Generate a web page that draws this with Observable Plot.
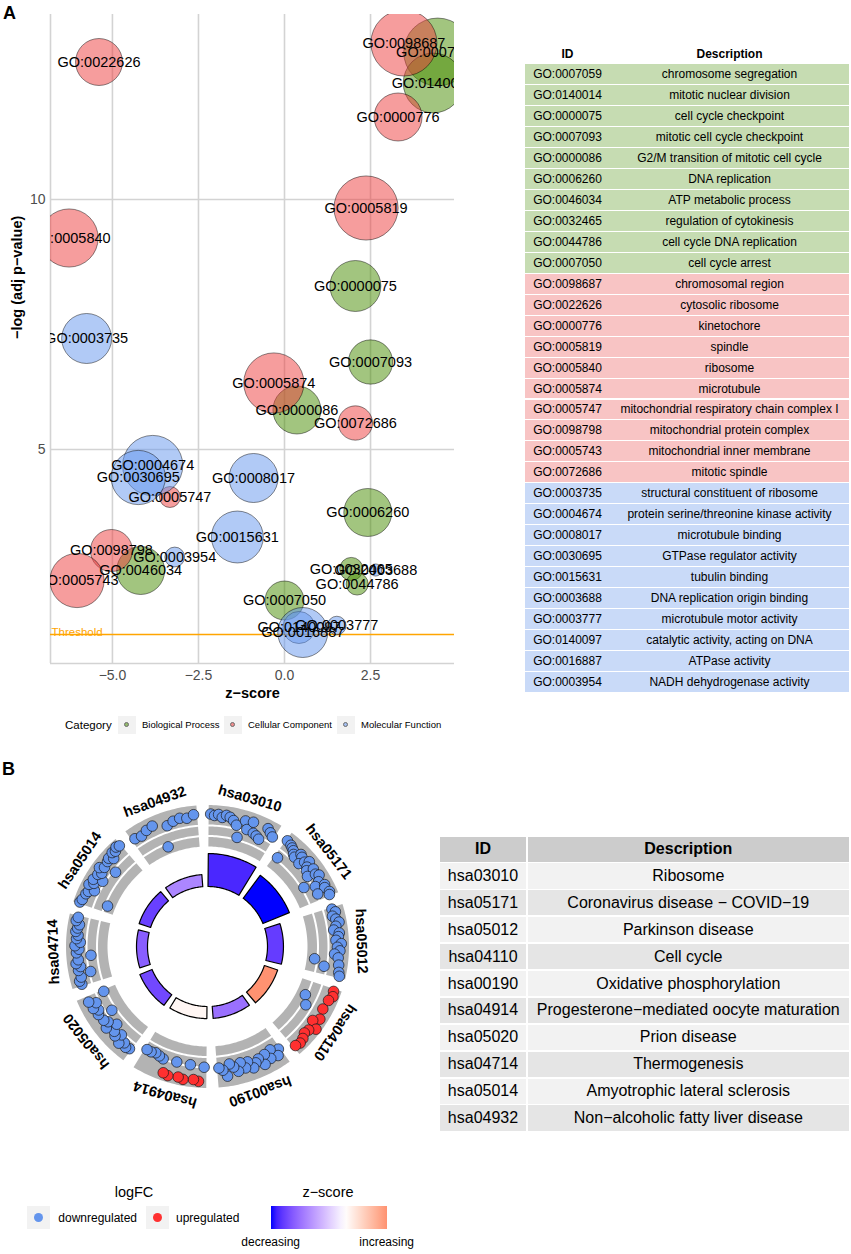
<!DOCTYPE html>
<html><head><meta charset="utf-8">
<script src="https://cdn.jsdelivr.net/npm/d3@7"></script>
<script src="https://cdn.jsdelivr.net/npm/@observablehq/plot@0.6"></script>
<style>
html,body{margin:0;padding:0;background:#fff}
body{width:851px;height:1254px;position:relative;overflow:hidden;font-family:"Liberation Sans",Arial,sans-serif;color:#000}
</style></head><body>
<script>
// ---------------- Panel A data ----------------
const goIds = ["GO:0007059","GO:0140014","GO:0000075","GO:0007093","GO:0000086","GO:0006260","GO:0046034","GO:0032465","GO:0044786","GO:0007050",
  "GO:0098687","GO:0022626","GO:0000776","GO:0005819","GO:0005840","GO:0005874","GO:0005747","GO:0098798","GO:0005743","GO:0072686",
  "GO:0003735","GO:0004674","GO:0008017","GO:0030695","GO:0015631","GO:0003688","GO:0003777","GO:0140097","GO:0016887","GO:0003954"];
const goDescs = ["chromosome segregation","mitotic nuclear division","cell cycle checkpoint","mitotic cell cycle checkpoint","G2/M transition of mitotic cell cycle","DNA replication","ATP metabolic process","regulation of cytokinesis","cell cycle DNA replication","cell cycle arrest",
  "chromosomal region","cytosolic ribosome","kinetochore","spindle","ribosome","microtubule","mitochondrial respiratory chain complex I","mitochondrial protein complex","mitochondrial inner membrane","mitotic spindle",
  "structural constituent of ribosome","protein serine/threonine kinase activity","microtubule binding","GTPase regulator activity","tubulin binding","DNA replication origin binding","microtubule motor activity","catalytic activity, acting on DNA","ATPase activity","NADH dehydrogenase activity"];
const goCats = ["Biological Process","Biological Process","Biological Process","Biological Process","Biological Process","Biological Process","Biological Process","Biological Process","Biological Process","Biological Process",
  "Cellular Component","Cellular Component","Cellular Component","Cellular Component","Cellular Component","Cellular Component","Cellular Component","Cellular Component","Cellular Component","Cellular Component",
  "Molecular Function","Molecular Function","Molecular Function","Molecular Function","Molecular Function","Molecular Function","Molecular Function","Molecular Function","Molecular Function","Molecular Function"];
const goZscores = [4.45,4.32,2.06,2.50,0.36,2.42,-4.18,1.94,2.11,0.00,
  3.47,-5.39,3.30,2.37,-6.26,-0.31,-3.33,-5.03,-6.03,2.06,
  -5.75,-3.83,-0.90,-4.25,-1.37,2.65,1.52,0.42,0.53,-3.19];
const goLogP = [12.95,12.33,8.27,6.75,5.79,3.74,2.58,2.61,2.31,1.98,
  13.13,12.75,11.65,9.83,9.23,6.33,4.05,2.98,2.38,5.53,
  7.22,4.68,4.43,4.44,3.25,2.59,1.48,1.44,1.34,2.85];
const goCounts = [94,73,53,40,47,47,47,11,10,31,
  89,45,47,84,69,74,9,36,60,24,
  51,74,49,60,55,3,7,21,51,8];
const catNames = ["Biological Process","Cellular Component","Molecular Function"];
const catColors = ["#458B00","#EE3B3B","#6495ED"];
const catRowFills = ["#c6dcb2","#f8c4c4","#c9daf8"];
const xTicks = [-5, -2.5, 0, 2.5];
const yTicks = [5, 10];
const threshold = 1.3;
const xDomain = [-6.8, 4.94];
const yDomain = [0.72, 13.7];

// ---------------- Panel B data ----------------
const keggIds = ["hsa03010","hsa05171","hsa05012","hsa04110","hsa00190","hsa04914","hsa05020","hsa04714","hsa05014","hsa04932"];
const keggDescs = ["Ribosome","Coronavirus disease \u2212 COVID\u221219","Parkinson disease","Cell cycle","Oxidative phosphorylation","Progesterone\u2212mediated oocyte maturation","Prion disease","Thermogenesis","Amyotrophic lateral sclerosis","Non\u2212alcoholic fatty liver disease"];
const keggZscores = [-5.8,-6.4,-5.3,3.6,-3.9,0.3,-5.0,-4.4,-5.2,-3.3];
const keggLogP = [30,26,14.5,12.7,11,11,12,10,11,11];
const keggGeneLogFC = [
  [-2.5,-2.4,-2.5,-2.3,-2.5,-2.4,-2.2,-1.9,-1.0,-2.4,-1.8,-2.5,-1.7,-1.6,-1.45,-2.5,-2.3,-2.1],
  [-2.5,-1.0,-2.4,-2.3,-2.2,-2.0,-1.9,-2.4,-2.3,-1.8,-2.2,-2.5,-2.1,-1.9,-2.4,-1.7,-2.3,-2.5,-1.0,-2.2,-1.8,-2.5,-2.4,-1.7,-2.6,-2.5],
  [-2.3,-2.5,-2.2,-2.4,-2.6,-2.3,-2.1,-2.5,-2.4,-2.2,-2.6,-2.3,-2.5,-2.1,-2.4,-0.6,-2.5,-1.4,-2.6,-2.7],
  [2.6,2.7,2.5,-0.7,2.4,-1.1,2.6,2.2,2.8,2.4,2.3,2.5,2.6,2.5],
  [-1.9,-2.3,-1.6,-2.2,-1.7,-2.4,-1.8,-2.0,-2.3,-1.7,-2.1,-1.6,-2.2,-1.8,-1.5,-2.4,-1.9,-1.7],
  [-1.6,2.7,2.6,-1.5,2.7,2.6,-1.5,2.7,2.6,-1.6,-1.5,-1.4,-1.5,-1.5],
  [-2.2,-2.3,-2.1,-2.4,-1.8,-2.2,-2.0,-1.5,-2.3,-1.9,-2.1,-1.15,-2.2,-2.0,-2.3,-1.9,-2.4,-1.0],
  [-2.4,-2.5,-2.3,-1.5,-2.4,-2.2,-2.5,-2.3,-1.3,-2.4,-2.2,-2.5,-2.1,-2.4,-2.3,-2.5,-2.4,-2.3,-2.6,-2.5],
  [-2.7,-2.6,-0.6,-2.5,-2.4,-2.0,-2.6,-2.3,-2.5,-1.8,-2.4,-2.2,-2.6,-2.3,-1.4,-2.4,-2.5,-2.2,-2.6,-2.5,-2.7,-2.6],
  [-2.3,-2.2,-2.4,-2.5,-0.55,-2.1,-2.3,-2.4,-2.3,-2.5]
];
const lfcColors = {down: "#6495ED", up: "#FF3030"};
const zscoreRange = ["blue", "white", "red"];

// ---------------- helpers ----------------
const FONT = "Liberation Sans, Arial, sans-serif";
function el(tag, style, text, parent) {
  const e = document.createElement(tag);
  Object.assign(e.style, style);
  if (text != null) e.textContent = text;
  (parent || document.body).appendChild(e);
  return e;
}

// Panel labels
el("div", {position:"absolute", left:"3px", top:"4px", fontWeight:"bold", fontSize:"18px", lineHeight:"18px"}, "A");
el("div", {position:"absolute", left:"2px", top:"760px", fontWeight:"bold", fontSize:"18px", lineHeight:"18px"}, "B");

// ---------------- Panel A bubble chart ----------------
const goData = goIds.map((id, i) => ({id, desc: goDescs[i], cat: goCats[i], z: goZscores[i], logp: goLogP[i], count: goCounts[i]}));
const gridStyle = {stroke: "#d3d3d3", strokeOpacity: 1, strokeWidth: 1.6};
const bubble = Plot.plot({
  width: 470, height: 705,
  marginLeft: 50, marginRight: 16, marginTop: 14, marginBottom: 42,
  style: {fontFamily: FONT, fontSize: "14px", background: "transparent", overflow: "visible"},
  x: {domain: xDomain}, y: {domain: yDomain},
  r: {domain: [0, 100], range: [0, 35]},
  color: {domain: catNames, range: catColors},
  marks: [
    Plot.gridX(xTicks, gridStyle),
    Plot.gridY(yTicks, gridStyle),
    Plot.ruleX([xDomain[0]], gridStyle),
    Plot.ruleY([yDomain[0]], gridStyle),
    Plot.ruleY([threshold], {stroke: "orange", strokeWidth: 1.3}),
    Plot.text(["Threshold"], {y: () => threshold, text: d => d, frameAnchor: "left", textAnchor: "start", lineAnchor: "bottom", dx: 1, dy: 1, fill: "orange", fontSize: 11.5}),
    Plot.dot(goData, {x: "z", y: "logp", r: "count", fill: "cat", fillOpacity: 0.5, stroke: "black", strokeOpacity: 0.5, strokeWidth: 0.9, sort: null, clip: true}),
    Plot.text(goData, {x: "z", y: "logp", text: "id", fontSize: 14.5, fill: "black", clip: true}),
    Plot.axisX(xTicks, {tickSize: 0, tickPadding: 7, tickFormat: d3.format(".1f"), fontSize: 14, color: "#4d4d4d", label: null}),
    Plot.axisY(yTicks, {tickSize: 0, tickPadding: 5, tickFormat: d => String(d), fontSize: 14, color: "#4d4d4d", label: null}),
    Plot.text(["z\u2212score"], {text: d => d, frameAnchor: "bottom", lineAnchor: "bottom", dy: 34, fontWeight: "bold", fontSize: 14.5}),
    Plot.text(["\u2212log (adj p\u2212value)"], {text: d => d, frameAnchor: "left", rotate: -90, dx: -33, fontWeight: "bold", fontSize: 14.5})
  ]
});
const bubbleBox = el("div", {position:"absolute", left:"0px", top:"0px", width:"470px"});
bubbleBox.appendChild(bubble);

// Legend A
el("div", {position:"absolute", left:"65px", top:"716px", height:"18px", lineHeight:"18px", fontSize:"11.5px"}, "Category");
const keyX = [118, 224, 337];
catNames.forEach((c, i) => {
  const box = el("div", {position:"absolute", left: keyX[i] + "px", top:"716px", width:"18px", height:"18px", background:"#f2f2f2"});
  el("div", {position:"absolute", left:"6px", top:"6px", width:"5px", height:"5px", borderRadius:"50%", background: catColors[i], opacity: 0.55, border:"0.5px solid #000", boxSizing:"border-box"}, null, box);
  el("div", {position:"absolute", left: (keyX[i] + 24) + "px", top:"716px", height:"18px", lineHeight:"18px", fontSize:"9.5px"}, c);
});

// Table A
const tA = {left: 525, right: 849, idW: 85, top: 64.3, rowH: 20.95};
el("div", {position:"absolute", left: tA.left + "px", top:"46px", width: tA.idW + "px", height:"16px", lineHeight:"16px", textAlign:"center", fontWeight:"bold", fontSize:"12px"}, "ID");
el("div", {position:"absolute", left: (tA.left + tA.idW) + "px", top:"46px", width: (tA.right - tA.left - tA.idW) + "px", height:"16px", lineHeight:"16px", textAlign:"center", fontWeight:"bold", fontSize:"12px"}, "Description");
goData.forEach((d, i) => {
  const top = tA.top + i * tA.rowH;
  const bg = catRowFills[catNames.indexOf(d.cat)];
  const row = el("div", {position:"absolute", left: tA.left + "px", top: top + "px", width: (tA.right - tA.left) + "px", height: (tA.rowH - 1) + "px", background: bg, fontSize:"12px"});
  el("div", {position:"absolute", left:"0px", top:"0px", width: tA.idW + "px", height:"100%", display:"flex", alignItems:"center", justifyContent:"center"}, d.id, row);
  el("div", {position:"absolute", left: tA.idW + "px", top:"0px", width: (tA.right - tA.left - tA.idW) + "px", height:"100%", display:"flex", alignItems:"center", justifyContent:"center"}, d.desc, row);
});

// ---------------- Panel B circle ----------------
const geo = {W: 430, H: 385, cx: 207, cy: 188, step: 36, gap: 5, rBarIn: 60, barK: 1.1, rBandIn: 100, rBandOut: 141.5, bandLines: [110.5, 121], geneR0: 100, geneK: 13, rLabel: 154};
const rad = Math.PI / 180;
const polar = (r, deg) => ({x: r * Math.sin(deg * rad), y: r * Math.cos(deg * rad)});
const a0 = k => k * geo.step + 0.5;
const a1 = k => (k + 1) * geo.step - geo.gap + 0.5;
const amid = k => (a0(k) + a1(k)) / 2;
function ring(id, r0, r1, s, e, extra) {
  const pts = [];
  const n = Math.max(8, Math.ceil(e - s));
  for (let i = 0; i <= n; i++) pts.push({id, ...extra, ...polar(r1, s + (e - s) * i / n)});
  for (let i = n; i >= 0; i--) pts.push({id, ...extra, ...polar(r0, s + (e - s) * i / n)});
  return pts;
}
function arc(id, r, s, e) {
  const pts = [];
  const n = Math.max(8, Math.ceil(e - s));
  for (let i = 0; i <= n; i++) pts.push({id, ...polar(r, s + (e - s) * i / n)});
  return pts;
}
const sectorPts = keggIds.flatMap((id, k) => ring(id, geo.rBandIn, geo.rBandOut, a0(k), a1(k), {}));
const linePts = keggIds.flatMap((id, k) => geo.bandLines.flatMap((r, j) => arc(id + "_" + j, r, a0(k), a1(k))));
const barPts = keggIds.flatMap((id, k) => ring(id, geo.rBarIn, geo.rBarIn + keggLogP[k] * geo.barK, a0(k), a1(k), {z: keggZscores[k]}));
const genePts = keggIds.flatMap((id, k) => keggGeneLogFC[k].map((v, j, arr) => ({
  id, lfc: v, ...polar(geo.geneR0 + Math.abs(v) * geo.geneK, a0(k) + (j + 0.5) / arr.length * (a1(k) - a0(k)))
})));
const labelPts = keggIds.map((id, k) => ({id, rot: amid(k), ...polar(geo.rLabel, amid(k))}));
const zAbs = d3.max(keggZscores, Math.abs);

const circle = Plot.plot({
  width: geo.W, height: geo.H,
  marginLeft: 0, marginRight: 0, marginTop: 0, marginBottom: 0,
  style: {fontFamily: FONT, background: "transparent", overflow: "visible"},
  x: {domain: [-geo.cx, geo.W - geo.cx], axis: null},
  y: {domain: [geo.cy - geo.H, geo.cy], axis: null},
  color: {type: "linear", domain: [-zAbs, 0, zAbs], range: zscoreRange, interpolate: "lab"},
  marks: [
    Plot.line(sectorPts, {x: "x", y: "y", z: "id", fill: "#b3b3b3", stroke: "none", curve: "linear-closed"}),
    Plot.line(linePts, {x: "x", y: "y", z: "id", stroke: "white", strokeWidth: 2}),
    Plot.dot(genePts.filter(d => d.lfc < 0), {x: "x", y: "y", r: 5.3, fill: lfcColors.down, stroke: "#1a1a1a", strokeWidth: 0.7}),
    Plot.dot(genePts.filter(d => d.lfc > 0), {x: "x", y: "y", r: 5.3, fill: lfcColors.up, stroke: "#1a1a1a", strokeWidth: 0.7}),
    Plot.line(barPts, {x: "x", y: "y", z: "id", fill: "z", stroke: "black", strokeWidth: 1.2, curve: "linear-closed"}),
    Plot.text(labelPts, {x: "x", y: "y", text: "id", rotate: "rot", fontWeight: "bold", fontSize: 14.5, fill: "black"})
  ]
});
const circleBox = el("div", {position:"absolute", left:"0px", top:"758px", width: geo.W + "px"});
circleBox.appendChild(circle);

// Table B
const tB = {left: 440, right: 849, idW: 86, top: 836.7, headH: 25.6, rowTop: 863.3, rowH: 26.9, gap: 1.6};
const headB = [["ID", tB.left, tB.idW], ["Description", tB.left + tB.idW + tB.gap, tB.right - tB.left - tB.idW - tB.gap]];
headB.forEach(([t, l, w]) => el("div", {position:"absolute", left: l + "px", top: tB.top + "px", width: w + "px", height: tB.headH + "px", background:"#cccccc", display:"flex", alignItems:"center", justifyContent:"center", fontWeight:"bold", fontSize:"16px"}, t));
keggIds.forEach((id, i) => {
  const top = tB.rowTop + i * tB.rowH;
  const bg = i % 2 === 0 ? "#f2f2f2" : "#e5e5e5";
  el("div", {position:"absolute", left: tB.left + "px", top: top + "px", width: tB.idW + "px", height: (tB.rowH - tB.gap) + "px", background: bg, display:"flex", alignItems:"center", justifyContent:"center", fontSize:"16px"}, id);
  el("div", {position:"absolute", left: (tB.left + tB.idW + tB.gap) + "px", top: top + "px", width: (tB.right - tB.left - tB.idW - tB.gap) + "px", height: (tB.rowH - tB.gap) + "px", background: bg, display:"flex", alignItems:"center", justifyContent:"center", fontSize:"16px"}, keggDescs[i]);
});

// Legend B
el("div", {position:"absolute", left:"94px", width:"80px", top:"1182px", height:"20px", lineHeight:"20px", textAlign:"center", fontSize:"14.5px"}, "logFC");
[["downregulated", lfcColors.down, 27.3, 58.3], ["upregulated", lfcColors.up, 145.7, 176]].forEach(([t, c, bx, tx]) => {
  const box = el("div", {position:"absolute", left: bx + "px", top:"1206px", width:"23px", height:"23px", background:"#f2f2f2"});
  el("div", {position:"absolute", left:"7px", top:"7px", width:"9px", height:"9px", borderRadius:"50%", background: c}, null, box);
  el("div", {position:"absolute", left: tx + "px", top:"1207px", height:"22px", lineHeight:"22px", fontSize:"12px"}, t);
});
el("div", {position:"absolute", left:"278px", width:"100px", top:"1182px", height:"20px", lineHeight:"20px", textAlign:"center", fontSize:"14.5px"}, "z\u2212score");
const zMin = d3.min(keggZscores), zMax = d3.max(keggZscores);
const zCol = v => v < 0 ? d3.interpolateLab(zscoreRange[1], zscoreRange[0])(-v / zAbs) : d3.interpolateLab(zscoreRange[1], zscoreRange[2])(v / zAbs);
const stops = d3.range(0, 21).map(i => { const v = zMin + (zMax - zMin) * i / 20; return `${zCol(v)} ${i * 5}%`; });
el("div", {position:"absolute", left:"270.7px", top:"1206px", width:"116px", height:"23px", background: `linear-gradient(to right, ${stops.join(",")})`});
el("div", {position:"absolute", left:"220.7px", width:"100px", top:"1233px", height:"18px", lineHeight:"18px", textAlign:"center", fontSize:"12px"}, "decreasing");
el("div", {position:"absolute", left:"336.7px", width:"100px", top:"1233px", height:"18px", lineHeight:"18px", textAlign:"center", fontSize:"12px"}, "increasing");
</script>
</body></html>
